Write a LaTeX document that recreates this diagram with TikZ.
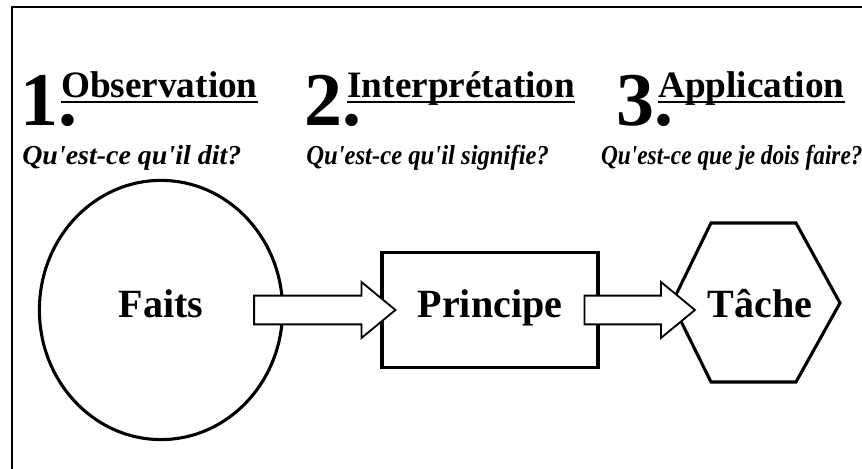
\documentclass[tikz,border=0pt]{standalone}
\usepackage{fontspec}
\setmainfont{Liberation Serif}
\usetikzlibrary{shapes.geometric,calc}
\newcommand{\fatarrow}[2]{\draw [blockarrow] ($(#1)+(0,0.36)$) -- ($(#2)+(-0.85,0.36)$) -- ($(#2)+(-0.85,0.7)$) -- (#2) -- ($(#2)+(-0.85,-0.7)$) -- ($(#2)+(-0.85,-0.36)$) -- ($(#1)+(0,-0.36)$) -- cycle;}

\begin{document}
\begin{tikzpicture}
	\tikzstyle{num}=[anchor=base west, inner sep=0, font=\bfseries\fontsize{54}{54}\selectfont]
	\tikzstyle{title}=[anchor=base west, inner sep=0, font=\bfseries\fontsize{26.5}{26.5}\selectfont]
	\tikzstyle{question}=[anchor=base west, inner sep=0, font=\bfseries\itshape\fontsize{19.5}{19.5}\selectfont]
	\tikzstyle{word}=[inner sep=0, line width=2.2pt, text height=0.7cm, text depth=0.3cm, font=\bfseries\fontsize{28.5}{28.5}\selectfont]
	\tikzstyle{blockarrow}=[draw=black, fill=white, line width=1.3pt, line join=miter]
	\tikzstyle{uline}=[line width=1.6pt]
	\useasboundingbox (0, 0) rectangle (21.55, 11.725);
	\draw [line width=1.2pt] (0.3, 0) -- (0.3, 11.55) -- (21.55, 11.55);

	\draw node[num] at (0.5, 8.575) (n1) {1.};
	\draw node[title] at (1.52, 9.28) (obs) {Observation};
	\draw node[question] at (0.55, 7.6) (q1) {\scalebox{1.02}[1]{Qu\textquotesingle est-ce qu\textquotesingle il dit?}};
	\draw node[num] at (7.6, 8.575) (n2) {2.};
	\draw node[title] at (8.68, 9.28) (interp) {Interprétation};
	\draw node[question] at (7.65, 7.6) (q2) {\scalebox{0.9}[1]{Qu\textquotesingle est-ce qu\textquotesingle il signifie?}};
	\draw node[num] at (15.4, 8.575) (n3) {3.};
	\draw node[title] at (16.45, 9.28) (appl) {Application};
	\draw node[question] at (15.02, 7.6) (q3) {\scalebox{0.85}[1]{Qu\textquotesingle est-ce que je dois faire?}};
	\draw [uline] ([yshift=-3pt]obs.base west) -- ([yshift=-3pt]obs.base east);
	\draw [uline] ([yshift=-3pt]interp.base west) -- ([yshift=-3pt]interp.base east);
	\draw [uline] ([yshift=-3pt]appl.base west) -- ([yshift=-3pt]appl.base east);

	\draw node[word, ellipse, draw, minimum width=6.08cm, minimum height=6.48cm] at (4.025, 3.975) (faits) {Faits};
	\draw node[word, rectangle, draw, minimum width=5.4cm, minimum height=2.875cm] at (12.25, 3.975) (principe) {Principe};
	\draw node[word] at (19.0, 3.975) (tache) {Tâche};
	\draw [line width=2.2pt, line join=miter] ($(tache)+(-2.2,0.175)$) -- ($(tache)+(-1.225,2.175)$) -- ($(tache)+(0.9,2.175)$) -- ($(tache)+(2.0,0.175)$) -- ($(tache)+(0.9,-1.8)$) -- ($(tache)+(-1.225,-1.8)$) -- cycle;

	\coordinate (a1s) at ($(faits.east)+(-0.75,0)$);
	\coordinate (a1e) at ($(principe.west)+(0.375,0)$);
	\coordinate (a2s) at ($(principe.east)+(-0.375,0)$);
	\coordinate (a2e) at ($(tache.west)+(-0.28,0)$);
	\fatarrow{a1s}{a1e}
	\fatarrow{a2s}{a2e}
\end{tikzpicture}
\end{document}
